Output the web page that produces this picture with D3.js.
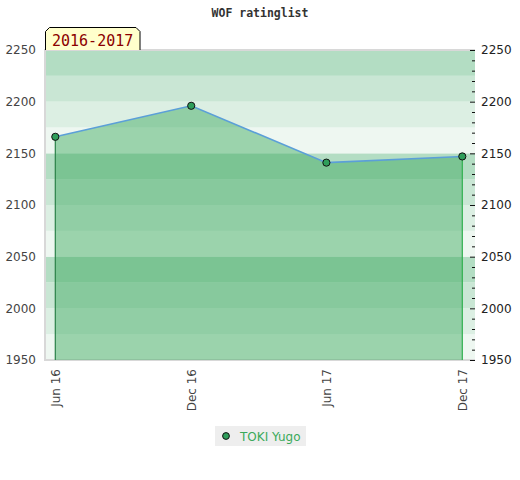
<!DOCTYPE html>
<html>
<head>
<meta charset="utf-8">
<script src="https://cdn.jsdelivr.net/npm/d3@7"></script>
<style>
body { margin: 0; background: #fff; }
</style>
</head>
<body>
<div id="chart"></div>
<script>
const periods = ["2016-06-01", "2016-12-01", "2017-06-01", "2017-12-01"];
const ratings = [2166, 2196, 2141, 2147];
const tickLabels = ["Jun 16", "Dec 16", "Jun 17", "Dec 17"];
const playerName = "TOKI Yugo";
const seasonLabel = "2016-2017";
const chartTitle = "WOF ratinglist";

const w = 520;
const h = 480;
const svg = d3.select('#chart').append("svg")
              .attr("width", w)
              .attr("height", h);

const parse = d3.timeParse("%Y-%m-%d");
const dates = periods.map(parse);

const plotL = 45, plotR = 475, plotT = 50, plotB = 360;

let x = d3.scaleTime()
          .domain([dates[0], dates[dates.length - 1]])
          .range([55.3, 462.3]);

let y = d3.scaleLinear()
          .domain([1950, 2250])
          .range([plotB, plotT]);

// striped background, 25 point bands cycling through 4 shades
const bandColors = ['#eef7f1', '#dcefe3', '#c9e6d4', '#b3ddc3'];
const bands = d3.range(1950, 2250, 25);
svg.selectAll("rect.band")
   .data(bands)
   .enter()
   .append("rect")
   .attr("class", "band")
   .attr("x", plotL)
   .attr("width", plotR - plotL)
   .attr("y", d => y(d + 25))
   .attr("height", d => y(d) - y(d + 25))
   .style("fill", (d, i) => bandColors[i % 4]);

// plot frame
svg.append("path")
   .attr("d", `M${plotR},${plotT}H${plotL}V${plotB}H${plotR}`)
   .style("fill", "none")
   .style("stroke", "#d8d8d8")
   .style("stroke-width", 2);

const data = dates.map((d, i) => ({date: d, value: ratings[i]}));

let area = d3.area()
             .x(d => x(d.date))
             .y0(y(1950))
             .y1(d => y(d.value));

svg.append("path")
   .datum(data)
   .attr("d", area)
   .style("fill", "rgb(57,168,92)")
   .style("opacity", 0.46);

let line = d3.line()
             .x(d => x(d.date))
             .y(d => y(d.value));

svg.append("path")
   .datum(data)
   .attr("d", line)
   .style("fill", "none")
   .style("stroke", "#5b9fd8")
   .style("stroke-width", 1.6);

// end verticals
const first = data[0], last = data[data.length - 1];
svg.append("line")
   .attr("x1", x(first.date)).attr("x2", x(first.date))
   .attr("y1", y(first.value)).attr("y2", y(1950))
   .style("stroke", "#2a8048").style("stroke-width", 1.2);
svg.append("line")
   .attr("x1", x(last.date)).attr("x2", x(last.date))
   .attr("y1", y(last.value)).attr("y2", y(1950))
   .style("stroke", "#30b050").style("stroke-width", 1.2);

svg.selectAll("circle.pt")
   .data(data)
   .enter()
   .append("circle")
   .attr("class", "pt")
   .attr("cx", d => x(d.date))
   .attr("cy", d => y(d.value))
   .attr("r", 3.6)
   .style("fill", "#2e9e5a")
   .style("stroke", "#111")
   .style("stroke-width", 1);

// left axis (labels only)
const leftAxis = svg.append("g")
   .attr("transform", `translate(${plotL},0)`)
   .call(d3.axisLeft(y).tickValues(d3.range(1950, 2251, 50)).tickSize(0).tickPadding(9).tickFormat(d3.format("d")));
leftAxis.select(".domain").remove();
leftAxis.selectAll("text")
   .style("font-family", "DejaVu Sans, sans-serif")
   .style("font-size", "12px")
   .style("fill", "#444");

// right axis: minor ticks every 10, labels every 50
const minor = svg.append("g")
   .attr("transform", `translate(${plotR},0)`)
   .call(d3.axisRight(y).tickValues(d3.range(1960, 2250, 10).filter(v => v % 50 !== 0)).tickSize(-3).tickFormat(""));
minor.select(".domain").remove();
minor.selectAll("line").style("stroke", "#111");

const rightAxis = svg.append("g")
   .attr("transform", `translate(${plotR},0)`)
   .call(d3.axisRight(y).tickValues(d3.range(1950, 2251, 50)).tickSizeInner(-5).tickSizeOuter(0).tickPadding(6).tickFormat(d3.format("d")));
rightAxis.select(".domain").remove();
rightAxis.selectAll("line").style("stroke", "#111");
rightAxis.selectAll("text")
   .style("font-family", "DejaVu Sans, sans-serif")
   .style("font-size", "12px")
   .style("fill", "#222");

// bottom axis, rotated labels
const xAxis = svg.append("g")
   .attr("transform", `translate(0,${plotB})`)
   .call(d3.axisBottom(x).tickValues(dates).tickSize(0).tickFormat((d, i) => tickLabels[i]));
xAxis.select(".domain").remove();
xAxis.selectAll("text")
   .attr("transform", "rotate(-90)")
   .attr("x", -9)
   .attr("y", 0)
   .attr("dy", "0.35em")
   .style("text-anchor", "end")
   .style("font-family", "DejaVu Sans, sans-serif")
   .style("font-size", "12px")
   .style("fill", "#444");

// title
svg.append("text")
   .attr("x", 260)
   .attr("y", 17)
   .attr("text-anchor", "middle")
   .style("font-family", "DejaVu Sans Mono, monospace")
   .style("font-weight", "bold")
   .style("font-size", "11.5px")
   .style("fill", "#333")
   .text(chartTitle);

// season tag
const tx0 = 45.5, tx1 = 140, ty0 = 27.5, ty1 = 50, c = 4;
svg.append("path")
   .attr("d", `M${tx0},${ty1}V${ty0 + c}L${tx0 + c},${ty0}H${tx1 - c}L${tx1},${ty0 + c}V${ty1}`)
   .style("fill", "#ffffcc")
   .style("stroke", "#000")
   .style("stroke-width", 1);
svg.append("text")
   .attr("x", 52)
   .attr("y", 46)
   .style("font-family", "DejaVu Sans Mono, monospace")
   .style("font-size", "15px")
   .style("fill", "#8b0000")
   .text(seasonLabel);

// legend
const lg = svg.append("g").attr("transform", "translate(215,426)");
lg.append("rect")
  .attr("width", 91).attr("height", 20)
  .style("fill", "#eeeeee");
lg.append("circle")
  .attr("cx", 11).attr("cy", 10).attr("r", 3.4)
  .style("fill", "#2e9e5a").style("stroke", "#111");
lg.append("text")
  .attr("x", 25).attr("y", 14.5)
  .style("font-family", "DejaVu Sans, sans-serif")
  .style("font-size", "12px")
  .style("fill", "#3aaa5a")
  .text(playerName);
</script>
</body>
</html>
